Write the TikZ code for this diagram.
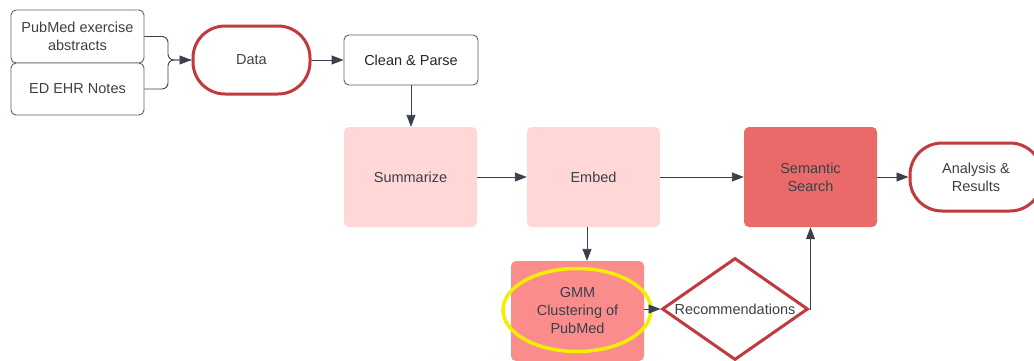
\documentclass[tikz,border=0pt]{standalone}
\usepackage{fontspec}
\setmainfont{Liberation Sans}
\usetikzlibrary{shapes.geometric,arrows.meta,calc}

\definecolor{ink}{HTML}{3A414B}
\definecolor{txt}{HTML}{3B4049}
\definecolor{framegray}{HTML}{5E636B}
\definecolor{redline}{HTML}{C23A3C}
\definecolor{pinkfill}{HTML}{FFD7D7}
\definecolor{salmonfill}{HTML}{FB8C8C}
\definecolor{redfill}{HTML}{EA6A6A}
\definecolor{ringyellow}{HTML}{F4EE00}

\tikzset{
  base/.style={align=center, text=txt, font=\fontsize{14.5}{18}\selectfont, inner sep=2pt},
  plainbox/.style={base, draw=framegray, line width=0.9pt, rounded corners=5pt, fill=white},
  terminal/.style={base, draw=redline, line width=3pt, fill=white},
  stagebox/.style={base, rounded corners=5pt, minimum width=133pt, minimum height=100pt},
  decision/.style={base, diamond, draw=redline, line width=3pt, fill=white, aspect=1.43,
                   minimum width=146pt, minimum height=102pt, inner sep=0pt},
  ring/.style={ellipse, draw=ringyellow, line width=3.5pt, minimum width=148pt, minimum height=83pt},
  link/.style={draw=ink, line width=0.9pt},
  arrow/.style={link, -{Triangle[length=12pt,width=9pt]}}
}

\begin{document}
\begin{tikzpicture}[x=1pt,y=-1pt]
\useasboundingbox (0,0) rectangle (1034,360);
\clip (0,0) rectangle (1034,360);
\fill[white] (0,0) rectangle (1034,360);

% sources
\node[plainbox, minimum width=133pt, minimum height=53pt] (pub) at (77.5,36.5) {PubMed exercise\\abstracts};
\node[plainbox, minimum width=133pt, minimum height=52pt] (ehr) at (77.5,89) {ED EHR Notes};

% top row
\node[terminal, rounded corners=32pt, minimum width=117pt, minimum height=68pt] (data) at (251.5,60) {Data};
\node[plainbox, text=black!85, minimum width=134pt, minimum height=50pt] (clean) at (411,60) {Clean \& Parse};

% processing row
\node[stagebox, fill=pinkfill] (summ) at (410.5,177) {Summarize};
\node[stagebox, fill=pinkfill] (embed) at (593.5,177) {Embed};
\node[stagebox, fill=redfill] (sem) at (810.5,177) {Semantic\\Search};
\node[terminal, rounded corners=32pt, minimum width=132pt, minimum height=68pt] (res) at (976,177) {Analysis \&\\Results};

% clustering branch
\node[stagebox, fill=salmonfill] (gmm) at (577.5,311) {GMM\\Clustering of\\PubMed};
\node[ring] (gmmring) at (577,310) {};
\node[decision] (rec) at (735,309) {Recommendations};

% merge of the two sources
\coordinate (joint) at (168,60);
\draw[link, rounded corners=6pt] (ehr.east) -| (joint) -- (data.west);
\draw[arrow, rounded corners=6pt] (pub.east) -| (joint) -- (data.west);

% flow
\draw[arrow] (data.east) -- (clean.west);
\draw[arrow] (clean.south) -- (clean.south |- summ.north);
\draw[arrow] (summ.east) -- (embed.west);
\draw[arrow] (embed.east) -- (sem.west);
\draw[arrow] (sem.east) -- (res.west);
\draw[arrow] ([xshift=-6.5pt]embed.south) -- ([xshift=-6.5pt]embed.south |- gmm.north);
\draw[arrow] (gmm.east |- rec.west) -- (rec.west);
\draw[arrow] (rec.east) -| (sem.south);
\end{tikzpicture}
\end{document}
